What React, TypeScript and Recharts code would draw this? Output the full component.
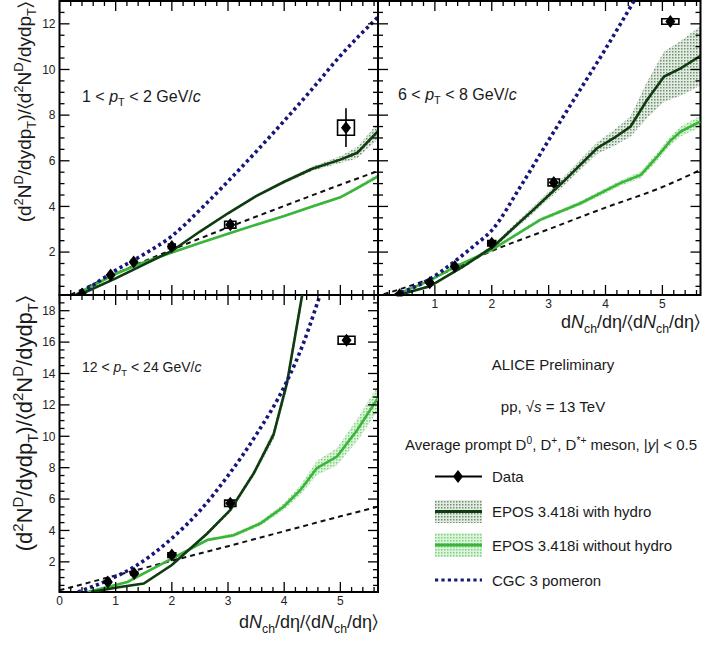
import React from "react";
import {
  ComposedChart,
  Line,
  Area,
  Scatter,
  XAxis,
  YAxis,
  ErrorBar,
  ReferenceArea,
} from "recharts";

const FONT = '"Liberation Sans", Arial, Helvetica, sans-serif';
const NAVY = "#16167c";
const DARK = "#0f3b10";
const LIGHT = "#3ab53a";
const X_DOMAIN: [number, number] = [0, 5.67];

// ---- 1 < pT < 2 GeV/c
const lowDataX = [0.4, 0.91, 1.32, 2.0, 3.04, 5.1];
const lowDataY = [0.15, 1.0, 1.57, 2.25, 3.2, 7.45];
const lowStat = [0.04, 0.06, 0.08, 0.12, 0.15, 0.85];
const lowSysX = [0.04, 0.05, 0.05, 0.06, 0.1, 0.15];
const lowSysY = [0.03, 0.05, 0.06, 0.1, 0.15, 0.33];
const lowCgcX = [0.3, 0.5, 1.0, 1.5, 2.0, 2.5, 3.0, 3.5, 4.0, 4.5, 5.0, 5.67];
const lowCgcY = [0.1, 0.4, 1.2, 1.9, 2.7, 3.85, 5.1, 6.4, 7.75, 9.15, 10.6, 12.3];
const lowLinX = [0.2, 1, 2, 3, 4, 5, 5.67];
const lowLinY = [0.13, 1.05, 2.1, 3.08, 4.02, 4.95, 5.55];
const lowHydX = [0.35, 1.0, 1.5, 2.0, 2.5, 3.0, 3.5, 4.0, 4.5, 5.0, 5.3, 5.67];
const lowHydY = [0.12, 0.85, 1.45, 2.05, 2.9, 3.7, 4.45, 5.08, 5.65, 6.05, 6.35, 7.3];
const lowHydE = [0.05, 0.05, 0.05, 0.05, 0.05, 0.06, 0.06, 0.08, 0.1, 0.15, 0.25, 0.35];
const lowNoX = [0.3, 1.0, 1.5, 2.0, 2.5, 3.0, 3.5, 4.0, 4.5, 5.0, 5.3, 5.67];
const lowNoY = [0.15, 1.05, 1.55, 1.98, 2.4, 2.8, 3.2, 3.58, 4.0, 4.4, 4.8, 5.32];
const lowNoE = [0.08, 0.08, 0.06, 0.05, 0.05, 0.05, 0.05, 0.05, 0.06, 0.06, 0.08, 0.1];

// ---- 6 < pT < 8 GeV/c
const midDataX = [0.38, 0.91, 1.35, 2.0, 3.09, 5.14];
const midDataY = [0.13, 0.66, 1.37, 2.39, 5.05, 12.1];
const midStat = [0.04, 0.07, 0.1, 0.15, 0.2, 0.2];
const midSysX = [0.04, 0.05, 0.06, 0.07, 0.1, 0.15];
const midSysY = [0.04, 0.06, 0.08, 0.12, 0.15, 0.12];
const midCgcX = [0.3, 0.9, 1.3, 1.7, 2.0, 2.5, 3.0, 3.5, 4.0, 4.5, 4.8];
const midCgcY = [0.13, 0.8, 1.5, 2.3, 2.95, 4.85, 6.9, 8.9, 10.9, 13.0, 14.3];
const midLinX = [0.1, 0.9, 2, 3, 4, 5, 5.67];
const midLinY = [0.15, 0.82, 2.05, 3.0, 3.95, 4.85, 5.6];
const midHydX = [0.38, 0.91, 1.5, 2.03, 2.4, 2.73, 3.26, 3.85, 4.15, 4.44, 4.73, 5.03, 5.32, 5.67];
const midHydY = [0.13, 0.5, 1.37, 2.25, 3.1, 3.85, 5.09, 6.55, 7.0, 7.5, 8.66, 9.69, 10.05, 10.6];
const midHydE = [0.03, 0.05, 0.08, 0.1, 0.12, 0.15, 0.2, 0.25, 0.35, 0.45, 0.8, 1.1, 1.2, 1.3];
const midNoX = [0.38, 0.91, 1.35, 2.0, 2.85, 3.56, 4.26, 4.62, 4.91, 5.15, 5.32, 5.67];
const midNoY = [0.2, 0.75, 1.35, 2.1, 3.41, 4.14, 5.02, 5.38, 6.18, 6.9, 7.28, 7.72];
const midNoE = [0.03, 0.04, 0.05, 0.06, 0.08, 0.1, 0.12, 0.15, 0.18, 0.2, 0.22, 0.25];

// ---- 12 < pT < 24 GeV/c
const highDataX = [0.86, 1.33, 2.0, 3.04, 5.11];
const highDataY = [0.72, 1.26, 2.43, 5.73, 16.12];
const highStat = [0.1, 0.15, 0.2, 0.3, 0.3];
const highSysX = [0.05, 0.06, 0.07, 0.1, 0.15];
const highSysY = [0.08, 0.1, 0.15, 0.2, 0.25];
const highCgcX = [0.33, 0.86, 1.33, 2.0, 2.51, 3.01, 3.52, 4.02, 4.35, 4.64, 4.8];
const highCgcY = [0.08, 0.83, 1.68, 3.5, 5.3, 7.54, 10.2, 13.3, 16.0, 19.0, 20.6];
const highLinX = [0, 1, 2, 3, 4, 5, 5.67];
const highLinY = [0.19, 1.13, 2.07, 3.0, 3.95, 4.9, 5.51];
const highHydX = [0.56, 1.05, 1.5, 2.0, 2.63, 3.04, 3.46, 3.81, 4.05, 4.32, 4.45];
const highHydY = [0.08, 0.38, 0.62, 1.8, 3.81, 5.3, 7.65, 10.1, 13.4, 19.0, 21.5];
const highHydE = [0.03, 0.05, 0.05, 0.08, 0.12, 0.15, 0.2, 0.3, 0.4, 0.5, 0.5];
const highNoX = [0.5, 1.21, 2.0, 2.63, 3.1, 3.58, 3.99, 4.29, 4.58, 4.94, 5.3, 5.67];
const highNoY = [0.08, 0.72, 2.2, 3.39, 3.7, 4.45, 5.51, 6.58, 7.97, 8.71, 10.4, 12.44];
const highNoE = [0.03, 0.05, 0.08, 0.1, 0.12, 0.15, 0.2, 0.3, 0.45, 0.55, 0.7, 0.8];

const xMajorLabelsTop = [1, 2, 3, 4, 5];
const xMajorLabelsBottom = [0, 1, 2, 3, 4, 5];
const yLabelsTop = [2, 4, 6, 8, 10, 12];
const yLabelsBottom = [2, 4, 6, 8, 10, 12, 14, 16, 18];

const range = (a: number, b: number, s: number) => {
  const r: number[] = [];
  for (let v = a; v <= b + 1e-9; v += s) r.push(+v.toFixed(2));
  return r;
};
const xTicks = range(0, 5.6, 0.2);

const pts = (xs: number[], ys: number[]) => xs.map((x, i) => ({ x, y: ys[i] }));
const band = (xs: number[], ys: number[], es: number[]) =>
  xs.map((x, i) => ({ x, band: [ys[i] - es[i], ys[i] + es[i]] }));
const dataPts = (xs: number[], ys: number[], es: number[]) =>
  xs.map((x, i) => ({ x, y: ys[i], err: es[i] }));

type Panel = {
  left: number;
  right: number;
  top: number;
  bottom: number;
  yDomain: [number, number];
  yTicks: number[];
  yLabels: number[];
  xLabels: number[];
  dx: number[];
  dy: number[];
  stat: number[];
  sx: number[];
  sy: number[];
  cgc: { x: number; y: number }[];
  lin: { x: number; y: number }[];
  hyd: { x: number; y: number }[];
  hydBand: { x: number; band: number[] }[];
  no: { x: number; y: number }[];
  noBand: { x: number; band: number[] }[];
};

const panels: Panel[] = [
  {
    left: 59.5, right: 378, top: 1, bottom: 295,
    yDomain: [0.12, 13], yTicks: range(0.5, 13, 0.5), yLabels: yLabelsTop, xLabels: [],
    dx: lowDataX, dy: lowDataY, stat: lowStat, sx: lowSysX, sy: lowSysY,
    cgc: pts(lowCgcX, lowCgcY), lin: pts(lowLinX, lowLinY),
    hyd: pts(lowHydX, lowHydY), hydBand: band(lowHydX, lowHydY, lowHydE),
    no: pts(lowNoX, lowNoY), noBand: band(lowNoX, lowNoY, lowNoE),
  },
  {
    left: 378, right: 700.5, top: 1, bottom: 295,
    yDomain: [0.12, 13], yTicks: range(0.5, 13, 0.5), yLabels: [], xLabels: xMajorLabelsTop,
    dx: midDataX, dy: midDataY, stat: midStat, sx: midSysX, sy: midSysY,
    cgc: pts(midCgcX, midCgcY), lin: pts(midLinX, midLinY),
    hyd: pts(midHydX, midHydY), hydBand: band(midHydX, midHydY, midHydE),
    no: pts(midNoX, midNoY), noBand: band(midNoX, midNoY, midNoE),
  },
  {
    left: 59.5, right: 378, top: 295, bottom: 592,
    yDomain: [0.08, 19], yTicks: range(0.5, 19, 0.5), yLabels: yLabelsBottom, xLabels: xMajorLabelsBottom,
    dx: highDataX, dy: highDataY, stat: highStat, sx: highSysX, sy: highSysY,
    cgc: pts(highCgcX, highCgcY), lin: pts(highLinX, highLinY),
    hyd: pts(highHydX, highHydY), hydBand: band(highHydX, highHydY, highHydE),
    no: pts(highNoX, highNoY), noBand: band(highNoX, highNoY, highNoE),
  },
];

const isMajor = (v: number, step: number) => Math.abs(v / step - Math.round(v / step)) < 1e-6;

function Diamond(props: any) {
  const { cx, cy } = props;
  if (cx == null || cy == null) return null;
  return (
    <polygon
      points={`${cx},${cy - 6.5} ${cx + 5},${cy} ${cx},${cy + 6.5} ${cx - 5},${cy}`}
      fill="#000"
    />
  );
}

function PanelChart({ p }: { p: Panel }) {
  const xTick = (props: any) => {
    const { x, payload } = props;
    const v = payload.value;
    const major = isMajor(v, 1);
    const len = major ? 10 : 5;
    return (
      <g>
        <line x1={x} x2={x} y1={p.bottom} y2={p.bottom - len} stroke="#000" strokeWidth={1.3} />
        <line x1={x} x2={x} y1={p.top} y2={p.top + len} stroke="#000" strokeWidth={1.3} />
        {major && p.xLabels.includes(Math.round(v)) && (
          <text x={x} y={p.bottom + 13} textAnchor="middle" fontSize={12} fontFamily={FONT} fill="#222">
            {Math.round(v)}
          </text>
        )}
      </g>
    );
  };
  const yTick = (props: any) => {
    const { y, payload } = props;
    const v = payload.value;
    const major = isMajor(v, 2);
    const len = major ? 10 : 5;
    return (
      <g>
        <line x1={p.left} x2={p.left + len} y1={y} y2={y} stroke="#000" strokeWidth={1.3} />
        <line x1={p.right} x2={p.right - len} y1={y} y2={y} stroke="#000" strokeWidth={1.3} />
        {major && p.yLabels.includes(Math.round(v)) && (
          <text x={p.left - 4} y={y + 4.3} textAnchor="end" fontSize={12} fontFamily={FONT} fill="#222">
            {Math.round(v)}
          </text>
        )}
      </g>
    );
  };
  const scat = dataPts(p.dx, p.dy, p.stat);
  return (
    <div style={{ position: "absolute", left: 0, top: 0 }}>
      <ComposedChart
        width={702}
        height={646}
        margin={{ left: p.left - 1, top: p.top, right: 702 - p.right, bottom: 646 - p.bottom - 1 }}
      >
        <XAxis
          type="number"
          dataKey="x"
          domain={X_DOMAIN}
          ticks={xTicks}
          interval={0}
          height={1}
          tickSize={0}
          tickMargin={0}
          tick={xTick}
          tickLine={false}
          axisLine={false}
          allowDataOverflow
        />
        <YAxis
          type="number"
          dataKey="y"
          domain={p.yDomain}
          ticks={p.yTicks}
          interval={0}
          width={1}
          tickSize={0}
          tickMargin={0}
          tick={yTick}
          tickLine={false}
          axisLine={false}
          allowDataOverflow
        />
        <Area data={p.hydBand} dataKey="band" type="linear" stroke="none" fill="url(#hatchDark)" fillOpacity={1} isAnimationActive={false} />
        <Area data={p.noBand} dataKey="band" type="linear" stroke="none" fill="url(#hatchLight)" fillOpacity={1} isAnimationActive={false} />
        <Line data={p.lin} dataKey="y" type="monotone" stroke="#111" strokeWidth={2} strokeDasharray="5 4" dot={false} activeDot={false} isAnimationActive={false} />
        <Line data={p.no} dataKey="y" type="linear" stroke={LIGHT} strokeWidth={2.6} dot={false} activeDot={false} isAnimationActive={false} />
        <Line data={p.hyd} dataKey="y" type="linear" stroke={DARK} strokeWidth={2.6} dot={false} activeDot={false} isAnimationActive={false} />
        <Line data={p.cgc} dataKey="y" type="monotone" stroke={NAVY} strokeWidth={3.6} strokeDasharray="3.2 3.2" dot={false} activeDot={false} isAnimationActive={false} />
        {p.dx.map((x, i) => (
          <ReferenceArea
            key={i}
            x1={x - p.sx[i]}
            x2={x + p.sx[i]}
            y1={p.dy[i] - p.sy[i]}
            y2={p.dy[i] + p.sy[i]}
            fill="none"
            stroke="#000"
            strokeWidth={1.6}
            ifOverflow="visible"
          />
        ))}
        <Scatter data={scat} dataKey="y" shape={Diamond} isAnimationActive={false}>
          <ErrorBar dataKey="err" direction="y" width={0} stroke="#000" strokeWidth={1.6} />
        </Scatter>
        <ReferenceArea
          x1={X_DOMAIN[0]}
          x2={X_DOMAIN[1]}
          y1={p.yDomain[0]}
          y2={p.yDomain[1]}
          fill="none"
          stroke="#000"
          strokeWidth={2}
          ifOverflow="visible"
        />
      </ComposedChart>
    </div>
  );
}

type Seg = [string, string?];
function Rich({ segs, size }: { segs: Seg[]; size: number }) {
  let level = 0;
  return (
    <>
      {segs.map(([t, k = "n"], i) => {
        const small = k === "sup" || k === "sub";
        const target = k === "sup" ? -0.4 * size : k === "sub" ? 0.28 * size : 0;
        const dy = target - level;
        level = target;
        return (
          <tspan key={i} dy={dy} fontSize={small ? size * 0.68 : size} fontStyle={k === "i" ? "italic" : undefined}>
            {t}
          </tspan>
        );
      })}
    </>
  );
}

const yTitle: Seg[] = [
  ["(d"], ["2", "sup"], ["N"], ["D", "sup"], ["/dydp"], ["T", "sub"], [")/\u2329d"],
  ["2", "sup"], ["N"], ["D", "sup"], ["/dydp"], ["T", "sub"], ["\u232a"],
];
const xTitle: Seg[] = [
  ["d"], ["N", "i"], ["ch", "sub"], ["/d\u03b7/\u2329d"], ["N", "i"], ["ch", "sub"], ["/d\u03b7\u232a"],
];
const ptLabel = (a: string, b: string): Seg[] => [[`${a} < `], ["p", "i"], ["T", "sub"], [` < ${b} GeV/`], ["c", "i"]];

function Overlay() {
  return (
    <svg width={702} height={646} style={{ position: "absolute", left: 0, top: 0 }} fontFamily={FONT} fill="#1a1a1a">
      <text transform="rotate(-90)" x={-2} y={31} textAnchor="end">
        <Rich segs={yTitle} size={19} />
      </text>
      <text transform="rotate(-90)" x={-296} y={32} textAnchor="end">
        <Rich segs={yTitle} size={22} />
      </text>
      <text x={700} y={328} textAnchor="end">
        <Rich segs={xTitle} size={18} />
      </text>
      <text x={378} y={628} textAnchor="end">
        <Rich segs={xTitle} size={18} />
      </text>
      <text x={82} y={102}>
        <Rich segs={ptLabel("1", "2")} size={16} />
      </text>
      <text x={398} y={100}>
        <Rich segs={ptLabel("6", "8")} size={16} />
      </text>
      <text x={82} y={372}>
        <Rich segs={ptLabel("12", "24")} size={14} />
      </text>

      <text x={553} y={370} textAnchor="middle" fontSize={15}>ALICE Preliminary</text>
      <text x={553} y={412} textAnchor="middle">
        <Rich segs={[["pp, \u221a"], ["s", "i"], [" = 13 TeV"]]} size={15} />
      </text>
      <text x={405} y={450}>
        <Rich
          segs={[
            ["Average prompt D"], ["0", "sup"], [", D"], ["+", "sup"], [", D"], ["*+", "sup"],
            [" meson, |"], ["y", "i"], ["| < 0.5"],
          ]}
          size={15}
        />
      </text>

      <line x1={435} x2={482} y1={476.5} y2={476.5} stroke="#000" strokeWidth={2} />
      <polygon points="458,470 463,476.5 458,483 453,476.5" fill="#000" />
      <text x={492} y={482} fontSize={15}>Data</text>

      <rect x={435} y={500} width={47} height={23} fill="url(#hatchDark)" />
      <line x1={435} x2={482} y1={511.5} y2={511.5} stroke={DARK} strokeWidth={3} />
      <text x={492} y={517} fontSize={15}>EPOS 3.418i with hydro</text>

      <rect x={435} y={533} width={47} height={24} fill="url(#hatchLight)" />
      <line x1={435} x2={482} y1={545} y2={545} stroke={LIGHT} strokeWidth={3} />
      <text x={492} y={551} fontSize={15}>EPOS 3.418i without hydro</text>

      <line x1={435} x2={482} y1={580} y2={580} stroke={NAVY} strokeWidth={3.2} strokeDasharray="3.2 3.2" />
      <text x={492} y={586} fontSize={15}>CGC 3 pomeron</text>
    </svg>
  );
}

export default function App() {
  return (
    <div style={{ position: "absolute", left: 0, top: 0, width: 702, height: 646, background: "#fff" }}>
      <svg width={0} height={0} style={{ position: "absolute" }}>
        <defs>
          <pattern id="hatchDark" width="3" height="3" patternUnits="userSpaceOnUse">
            <rect width="3" height="3" fill="#e2ebe2" />
            <rect width="1.5" height="1.5" fill="#6f8f6f" />
          </pattern>
          <pattern id="hatchLight" width="3" height="3" patternUnits="userSpaceOnUse">
            <rect width="3" height="3" fill="#dcf3dc" />
            <rect width="1.5" height="1.5" fill="#7fd27f" />
          </pattern>
        </defs>
      </svg>
      {panels.map((p, i) => (
        <PanelChart key={i} p={p} />
      ))}
      <Overlay />
    </div>
  );
}
